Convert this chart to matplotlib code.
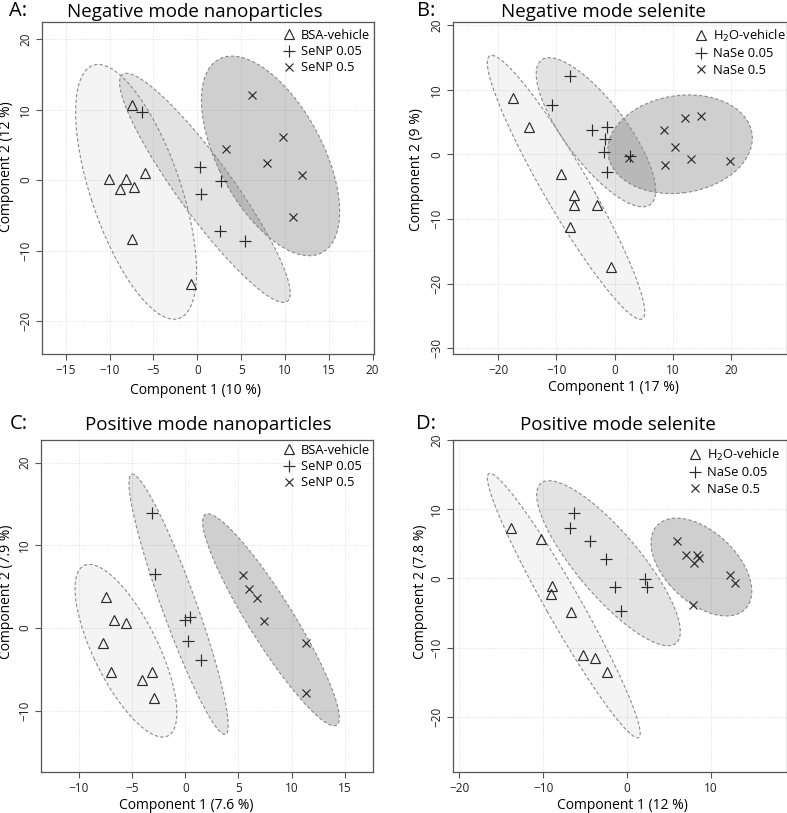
import numpy as np
import matplotlib

matplotlib.use("Agg")
import matplotlib.pyplot as plt
from matplotlib.lines import Line2D

plt.rcParams["font.family"] = ["Open Sans", "DejaVu Sans"]

W, H = 787, 813

# A: negative mode nanoparticles
a_veh_x = [-7.48, -10.02, -8.16, -8.81, -7.25, -5.92, -7.48, -0.67]
a_veh_y = [10.67, 0.17, 0.17, -1.25, -0.97, 0.97, -8.36, -14.75]
a_low_x = [-6.30, 0.32, 0.47, 2.75, 2.60, 5.41]
a_low_y = [9.63, 1.82, -1.96, -0.12, -7.27, -8.69]
a_high_x = [6.20, 3.32, 9.74, 7.95, 11.95, 10.96]
a_high_y = [12.09, 4.47, 6.18, 2.44, 0.73, -5.28]

# B: negative mode selenite
b_veh_x = [-17.42, -14.66, -9.15, -7.03, -7.03, -3.07, -7.60, -0.66]
b_veh_y = [8.71, 4.23, -3.09, -6.29, -7.84, -7.84, -11.24, -17.42]
b_low_x = [-7.66, -10.70, -3.87, -1.23, -1.64, -1.87, -1.23, 2.67]
b_low_y = [12.16, 7.58, 3.71, 4.18, 2.42, 0.41, -2.73, -0.26]
b_high_x = [2.55, 8.52, 12.19, 14.83, 10.47, 8.69, 13.11, 19.77]
b_high_y = [-0.57, 3.81, 5.67, 5.93, 1.19, -1.60, -0.77, -1.08]

# C: positive mode nanoparticles
c_veh_x = [-7.50, -6.71, -5.59, -7.75, -6.94, -4.09, -3.12, -2.93]
c_veh_y = [3.77, 0.99, 0.59, -1.83, -5.37, -6.25, -5.33, -8.51]
c_low_x = [-3.12, -2.87, -0.02, 0.45, 0.29, 1.51]
c_low_y = [13.92, 6.51, 0.95, 1.32, -1.62, -3.84]
c_high_x = [5.46, 6.02, 6.77, 7.43, 11.34, 11.34]
c_high_y = [6.43, 4.70, 3.65, 0.91, -1.87, -7.87]

# D: positive mode selenite
d_veh_x = [-13.84, -10.26, -8.91, -9.07, -6.73, -5.26, -3.83, -2.44]
d_veh_y = [7.23, 5.64, -1.06, -2.31, -4.87, -11.08, -11.47, -13.45]
d_low_x = [-6.29, -6.85, -4.38, -2.52, -1.49, -0.69, 2.17, 2.33]
d_low_y = [9.49, 7.23, 5.40, 2.84, -1.30, -4.72, -0.14, -1.16]
d_high_x = [5.95, 6.98, 8.33, 8.57, 7.94, 12.27, 12.91, 7.91]
d_high_y = [5.45, 3.33, 3.37, 2.89, 2.17, 0.48, -0.72, -3.76]

nano_labels = ["BSA-vehicle", "SeNP 0.05", "SeNP 0.5"]
selenite_labels = ["H$_2$O-vehicle", "NaSe 0.05", "NaSe 0.5"]

panels = [
    dict(letter="A:", title="Negative mode nanoparticles",
         groups=[(a_veh_x, a_veh_y), (a_low_x, a_low_y), (a_high_x, a_high_y)],
         labels=nano_labels, xlabel="Component 1 (10 %)", ylabel="Component 2 (12 %)",
         xlim=(-17.7, 20.15), ylim=(-24.7, 22.46),
         xticks=range(-15, 21, 5), yticks=range(-20, 21, 10),
         rect=(42, 22, 374, 354), letter_xy=(18, 11.5), title_xy=(195, 12),
         xlab_xy=(195, 390), ylab_xy=(7, 167), legend_xy=(370, 29)),
    dict(letter="B:", title="Negative mode selenite",
         groups=[(b_veh_x, b_veh_y), (b_low_x, b_low_y), (b_high_x, b_high_y)],
         labels=selenite_labels, xlabel="Component 1 (17 %)", ylabel="Component 2 (9 %)",
         xlim=(-27.75, 29.64), ylim=(-30.9, 20.5),
         xticks=range(-20, 21, 10), yticks=range(-30, 21, 10),
         rect=(453, 22, 787, 354), letter_xy=(426, 11), title_xy=(603, 12),
         xlab_xy=(613, 387), ylab_xy=(417, 170), legend_xy=(786, 28)),
    dict(letter="C:", title="Positive mode nanoparticles",
         groups=[(c_veh_x, c_veh_y), (c_low_x, c_low_y), (c_high_x, c_high_y)],
         labels=nano_labels, xlabel="Component 1 (7.6 %)", ylabel="Component 2 (7.9 %)",
         xlim=(-13.57, 17.66), ylim=(-17.41, 22.74),
         xticks=range(-10, 16, 5), yticks=range(-10, 21, 10),
         rect=(41, 440, 373, 772), letter_xy=(19, 424), title_xy=(208, 425),
         xlab_xy=(186, 805), ylab_xy=(7, 592), legend_xy=(370, 444)),
    dict(letter="D:", title="Positive mode selenite",
         groups=[(d_veh_x, d_veh_y), (d_low_x, d_low_y), (d_high_x, d_high_y)],
         labels=selenite_labels, xlabel="Component 1 (12 %)", ylabel="Component 2 (7.8 %)",
         xlim=(-20.75, 19.06), ylim=(-27.95, 20.0),
         xticks=range(-20, 11, 10), yticks=range(-20, 21, 10),
         rect=(453, 440, 787, 772), letter_xy=(426, 424), title_xy=(618, 425),
         xlab_xy=(622, 805), ylab_xy=(420, 592), legend_xy=(780, 447)),
]

markers = [
    dict(marker="^", markersize=7, markerfacecolor="none", markeredgewidth=0.85),
    dict(marker="+", markersize=9, markeredgewidth=0.85),
    dict(marker="x", markersize=6, markeredgewidth=0.85),
]
fill_alpha = [0.045, 0.11, 0.19]
ink = "#2b2b2b"
edge = "#555555"

# 95 % confidence ellipse scale for two dimensions
t95 = np.sqrt(-2 * np.log(0.05))
theta = np.linspace(0, 2 * np.pi, 200)

fig = plt.figure(figsize=(W / 100, H / 100), dpi=100)


def fx(px):
    return px / W


def fy(py):
    return 1 - py / H


for p in panels:
    l, t, r, b = p["rect"]
    ax = fig.add_axes([fx(l), fy(b), fx(r) - fx(l), fy(t) - fy(b)])
    ax.set_xlim(*p["xlim"])
    ax.set_ylim(*p["ylim"])
    ax.set_xticks(list(p["xticks"]))
    ax.set_yticks(list(p["yticks"]))
    ax.grid(True, color="#d9d9d9", linestyle=(0, (1, 1.5)), linewidth=0.6)
    ax.set_axisbelow(True)

    for (gx, gy), alpha in zip(p["groups"], fill_alpha):
        pts = np.column_stack([gx, gy])
        centre = pts.mean(axis=0)
        vals, vecs = np.linalg.eigh(np.cov(pts, rowvar=False))
        circle = np.column_stack([np.cos(theta), np.sin(theta)])
        ring = centre + t95 * (circle * np.sqrt(vals)) @ vecs.T
        ax.fill(ring[:, 0], ring[:, 1], color="black", alpha=alpha, linewidth=0, zorder=1)
        ax.plot(ring[:, 0], ring[:, 1], color="#8a8a8a", linewidth=0.8,
                linestyle=(0, (3, 2)), zorder=2)

    for (gx, gy), style in zip(p["groups"], markers):
        ax.plot(gx, gy, linestyle="none", color=ink, zorder=3, **style)

    handles = [Line2D([], [], linestyle="none", color=ink, **style) for style in markers]
    lx, ly = p["legend_xy"]
    ax.legend(handles, p["labels"], loc="upper right", bbox_to_anchor=(fx(lx), fy(ly)),
              bbox_transform=fig.transFigure, frameon=False, fontsize=9.3,
              handlelength=1.0, handletextpad=0.45, labelspacing=0.25, borderpad=0,
              borderaxespad=0)

    for s in ax.spines.values():
        s.set_color(edge)
        s.set_linewidth(0.9)
    ax.tick_params(colors=edge, labelcolor="#222222", length=4, width=0.8, labelsize=8.5,
                   pad=3)
    ax.tick_params(axis="y", labelrotation=90)
    for lab in ax.get_yticklabels():
        lab.set_va("center")

    fig.text(fx(p["letter_xy"][0]), fy(p["letter_xy"][1]), p["letter"], fontsize=14.5,
             ha="center", va="center")
    fig.text(fx(p["title_xy"][0]), fy(p["title_xy"][1]), p["title"], fontsize=13.5,
             ha="center", va="center")
    fig.text(fx(p["xlab_xy"][0]), fy(p["xlab_xy"][1]), p["xlabel"], fontsize=10,
             ha="center", va="center")
    fig.text(fx(p["ylab_xy"][0]), fy(p["ylab_xy"][1]), p["ylabel"], fontsize=10,
             ha="center", va="center", rotation=90)

fig.savefig("out.png", dpi=100)
